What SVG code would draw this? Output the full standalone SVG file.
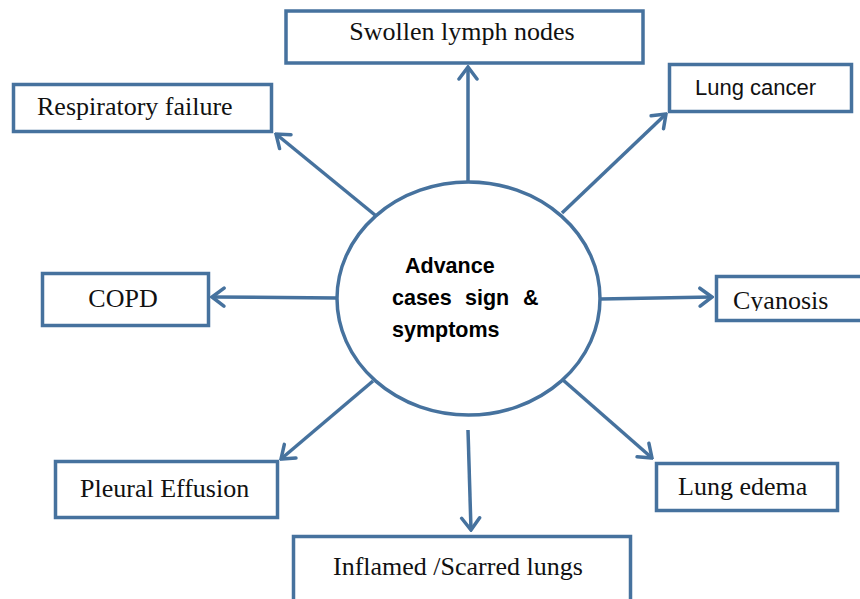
<svg xmlns="http://www.w3.org/2000/svg" width="860" height="599" viewBox="0 0 860 599">
<defs>
<style>
.box{fill:#fff;stroke:#46729e;stroke-width:3.5}
.con{fill:none;stroke:#46729e;stroke-width:3.5;marker-end:url(#arr)}
.t{font-family:"Liberation Serif","Times New Roman",serif;font-size:26px;fill:#111}
.s{font-family:"Liberation Sans",Arial,sans-serif;font-size:22px;fill:#111}
.c{font-family:"Liberation Sans",Arial,sans-serif;font-size:21.5px;font-weight:bold;fill:#000}
</style>
<marker id="arr" viewBox="-16 -12 18 24" markerWidth="18" markerHeight="24" refX="0" refY="0" orient="auto" markerUnits="userSpaceOnUse">
<path d="M-12,-9 L0,0 L-12,9" fill="none" stroke="#46729e" stroke-width="3.5" stroke-linecap="round"/>
</marker>
<clipPath id="cyclip"><rect x="700" y="270" width="170" height="41"/></clipPath>
</defs>
<rect width="860" height="599" fill="#fff"/>
<g id="connectors">
<line class="con" x1="468" y1="182" x2="468" y2="67"/>
<line class="con" x1="562" y1="213" x2="666" y2="114"/>
<line class="con" x1="375" y1="215" x2="276" y2="134"/>
<line class="con" x1="337" y1="298" x2="212" y2="297"/>
<line class="con" x1="600" y1="299" x2="712" y2="297"/>
<line class="con" x1="563" y1="380" x2="652" y2="458"/>
<line class="con" x1="373" y1="381" x2="281" y2="459"/>
<line class="con" x1="468" y1="430" x2="471" y2="530"/>
</g>
<g id="center">
<ellipse class="box" cx="468.5" cy="298.5" rx="131.5" ry="116.5"/>
<text class="c"><tspan x="405" y="273">Advance</tspan><tspan x="392" y="305">cases</tspan><tspan x="465" y="305">sign</tspan><tspan x="523" y="305">&amp;</tspan><tspan x="392" y="337">symptoms</tspan></text>
</g>
<g id="swollen">
<rect class="box" x="286" y="11" width="357" height="52"/>
<text class="t" x="462" y="40" text-anchor="middle">Swollen lymph nodes</text>
</g>
<g id="lungcancer">
<rect class="box" x="669.5" y="64.5" width="182" height="47"/>
<text class="s" x="695" y="95">Lung cancer</text>
</g>
<g id="respiratory">
<rect class="box" x="13.5" y="84.5" width="258" height="47"/>
<text class="t" x="37" y="115">Respiratory failure</text>
</g>
<g id="copd">
<rect class="box" x="42.5" y="273.5" width="166" height="52"/>
<text class="t" x="123" y="307" text-anchor="middle">COPD</text>
</g>
<g id="cyanosis">
<rect class="box" x="716.5" y="276.5" width="160" height="44"/>
<text class="t" x="733" y="309" clip-path="url(#cyclip)">Cyanosis</text>
</g>
<g id="edema">
<rect class="box" x="656.5" y="463.5" width="181" height="47"/>
<text class="t" x="678" y="495">Lung edema</text>
</g>
<g id="pleural">
<rect class="box" x="55.5" y="461.5" width="222" height="56"/>
<text class="t" x="80" y="497">Pleural Effusion</text>
</g>
<g id="inflamed">
<rect class="box" x="293.5" y="536.5" width="337" height="80"/>
<text class="t" x="333" y="575">Inflamed /Scarred lungs</text>
</g>
</svg>
